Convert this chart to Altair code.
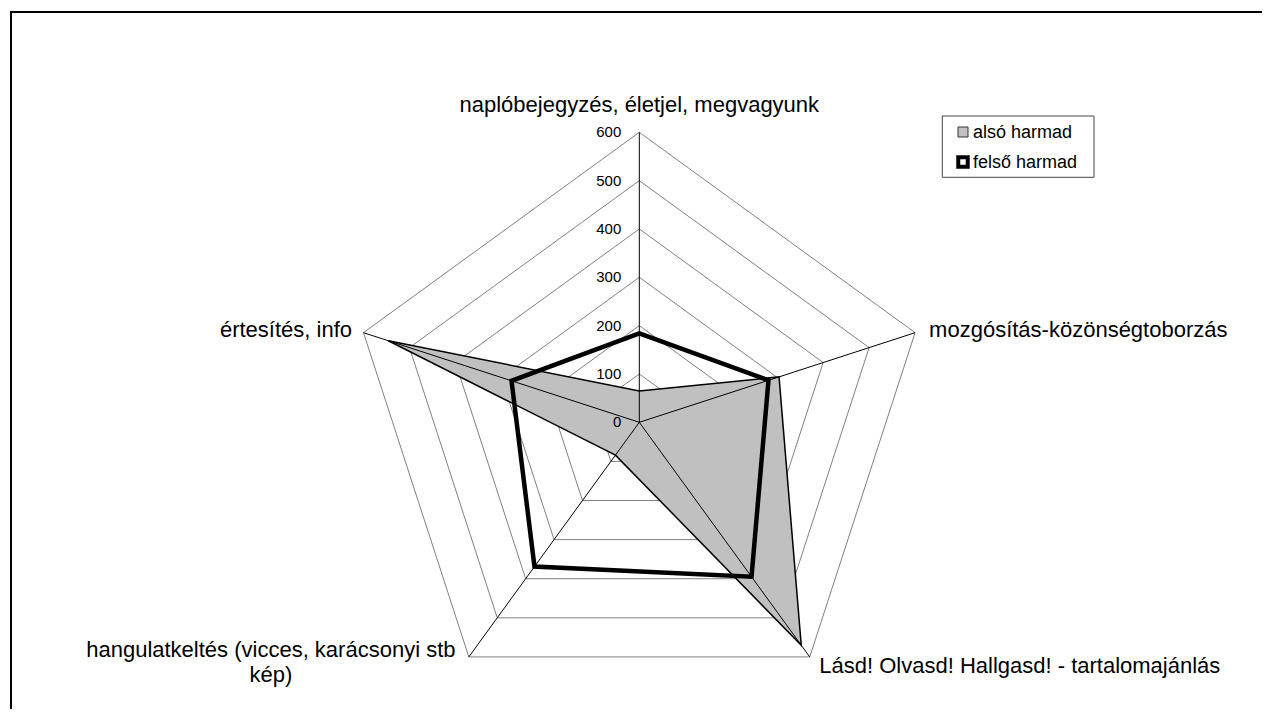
import altair as alt
import pandas as pd
import numpy as np

# ---- data ----
categories = [
    "naplóbejegyzés, életjel, megvagyunk",
    "mozgósítás-közönségtoborzás",
    "Lásd! Olvasd! Hallgasd! - tartalomajánlás",
    "hangulatkeltés (vicces, karácsonyi stb kép)",
    "értesítés, info",
]
series_names = ["alsó harmad", "felső harmad"]
also_harmad = [65, 304, 570, 84, 546]
felso_harmad = [184, 281, 395, 369, 278]
grid_levels = [100, 200, 300, 400, 500, 600]
tick_values = [0, 100, 200, 300, 400, 500, 600]
r_max = 600

FONT = "Liberation Sans, Arial, Helvetica, sans-serif"
n = len(categories)
angles = [2 * np.pi * i / n for i in range(n)]


def polar_rows(values, **extra):
    rows = []
    for i, (v, a) in enumerate(zip(values, angles)):
        rows.append(dict(idx=i, category=categories[i], value=v,
                         x=v * np.sin(a), y=v * np.cos(a), **extra))
    return rows


also_df = pd.DataFrame(polar_rows(also_harmad, series=series_names[0]))
felso_df = pd.DataFrame(polar_rows(felso_harmad, series=series_names[1]))
grid_rows = []
for lv in grid_levels:
    grid_rows += polar_rows([lv] * n, level=lv)
grid_df = pd.DataFrame(grid_rows)
spoke_df = pd.DataFrame(polar_rows([r_max] * n))
spoke_df["x0"] = 0.0
spoke_df["y0"] = 0.0
label_df = spoke_df.copy()
label_df["display"] = [c.replace("stb kép", "stb\nkép") for c in categories]
tick_df = pd.DataFrame({"x": [0.0] * len(tick_values),
                        "y": [float(t) for t in tick_values],
                        "label": [str(t) for t in tick_values]})
dummy = pd.DataFrame({"a": [0]})

W, H = 1254, 701
cx, cy, R = 631.3, 414.3, 290.0
xs = alt.Scale(domain=[-r_max, r_max], range=[cx - R, cx + R], nice=False, zero=False)
ys = alt.Scale(domain=[-r_max, r_max], range=[cy + R, cy - R], nice=False, zero=False)
X = alt.X("x:Q", scale=xs, axis=None)
Y = alt.Y("y:Q", scale=ys, axis=None)

grid = alt.Chart(grid_df).mark_line(
    interpolate="linear-closed", stroke="#808080", strokeWidth=1
).encode(x=X, y=Y, detail="level:N", order="idx:Q")

also_layer = alt.Chart(also_df).mark_line(
    interpolate="linear-closed", fill="#c0c0c0", stroke="black", strokeWidth=1.5
).encode(x=X, y=Y, order="idx:Q")

spokes = alt.Chart(spoke_df).mark_rule(color="black", strokeWidth=1).encode(
    x=alt.X("x0:Q", scale=xs, axis=None), y=alt.Y("y0:Q", scale=ys, axis=None),
    x2="x:Q", y2="y:Q")

felso_layer = alt.Chart(felso_df).mark_line(
    interpolate="linear-closed", stroke="black", strokeWidth=4.5, strokeJoin="miter"
).encode(x=X, y=Y, order="idx:Q")

ticks = alt.Chart(tick_df).mark_text(
    align="right", baseline="middle", dx=-18, fontSize=15, font=FONT, color="black"
).encode(x=X, y=Y, text="label:N")

label_specs = [
    (0, "center", 0, -20.6),
    (1, "left", 14, 4.3),
    (2, "left", 9.5, 16),
    (3, "center", -198, 0),
    (4, "right", -11.5, 4.3),
]
label_layers = []
for idx, align, dx, dy in label_specs:
    label_layers.append(
        alt.Chart(label_df).transform_filter(alt.datum.idx == idx).mark_text(
            align=align, baseline="alphabetic", dx=dx, dy=dy, fontSize=22,
            font=FONT, color="black", lineBreak="\n", lineHeight=25
        ).encode(x=X, y=Y, text="display:N")
    )

# border (only top and left edges are visible in the reference)
border_top = alt.Chart(dummy).mark_rule(color="black", strokeWidth=2).encode(
    x=alt.value(2), x2=alt.value(W), y=alt.value(4))
border_left = alt.Chart(dummy).mark_rule(color="black", strokeWidth=2).encode(
    x=alt.value(3), y=alt.value(3), y2=alt.value(H))

# legend box
legend_box = alt.Chart(dummy).mark_rect(fill="white", stroke="#444444", strokeWidth=1).encode(
    x=alt.value(934.3), x2=alt.value(1086), y=alt.value(108), y2=alt.value(169.3))
sym1 = alt.Chart(dummy).mark_point(shape="square", filled=True, size=100,
                                   fill="#c0c0c0", stroke="#333333", strokeWidth=1, opacity=1).encode(
    x=alt.value(955), y=alt.value(124))
sym2 = alt.Chart(dummy).mark_point(shape="square", filled=False, size=90,
                                   fill="white", stroke="black", strokeWidth=4, opacity=1).encode(
    x=alt.value(955), y=alt.value(154))
leg_t1 = alt.Chart(dummy).mark_text(align="left", baseline="alphabetic", fontSize=18,
                                    font=FONT, color="black").encode(
    x=alt.value(965), y=alt.value(129.7), text=alt.value(series_names[0]))
leg_t2 = alt.Chart(dummy).mark_text(align="left", baseline="alphabetic", fontSize=18,
                                    font=FONT, color="black").encode(
    x=alt.value(965), y=alt.value(160), text=alt.value(series_names[1]))

chart = alt.layer(
    grid, also_layer, spokes, felso_layer, ticks, *label_layers,
    border_top, border_left, legend_box, sym1, sym2, leg_t1, leg_t2
).properties(
    width=W, height=H, padding=0, autosize=alt.AutoSizeParams(type="none")
).configure(background="white").configure_view(stroke="transparent", strokeWidth=0)

chart.save("out.html", embed_options={"renderer": "svg", "actions": False})
